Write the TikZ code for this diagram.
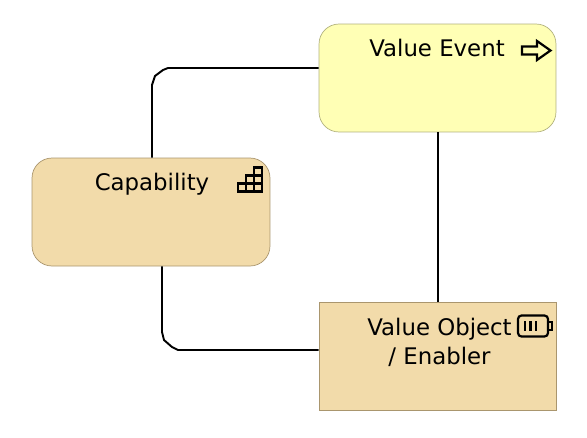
\documentclass[tikz,border=0pt]{standalone}
\usepackage{fontspec}
\setmainfont{DejaVu Sans}
\usetikzlibrary{positioning,calc}
\definecolor{eventfill}{RGB}{255,255,181}
\definecolor{eventedge}{RGB}{178,178,126}
\definecolor{tanfill}{RGB}{242,219,170}
\definecolor{tanedge}{RGB}{170,150,110}
\tikzset{
  eventbox/.style={draw=eventedge, fill=eventfill, rounded corners=0.4cm, minimum width=4.74cm, minimum height=2.16cm, inner sep=0pt},
  capbox/.style={draw=tanedge, fill=tanfill, rounded corners=0.4cm, minimum width=4.76cm, minimum height=2.16cm, inner sep=0pt},
  objbox/.style={draw=tanedge, fill=tanfill, minimum width=4.74cm, minimum height=2.16cm, inner sep=0pt},
  boxlabel/.style={font=\fontsize{13}{16.5}\selectfont, align=center, inner sep=0pt},
  link/.style={line width=1.1pt, black},
  glyph/.style={line width=1.25pt, black}
}
\begin{document}
\begin{tikzpicture}[x=0.02cm,y=-0.02cm]
\useasboundingbox (0,0) rectangle (587,437);

% Elements
\node[eventbox] (event) at (437.5,78) {};
\node[capbox] (capability) at (151,212) {};
\node[objbox] (object) at (437.5,356) {};

% Connectors
\coordinate (capup) at ($(capability.north)+(1,0)$);
\coordinate (capdown) at ($(capability.south)+(11,0)$);
\coordinate (eventdown) at ($(event.south)+(0.5,0)$);
\coordinate (objectup) at ($(object.north)+(0.5,0)$);
\draw[link] (capup) -- (152,85) -- (155,76) -- (163,70) -- (168,68) -- (event.west |- 0,68);
\draw[link] (capdown) -- (162,332) -- (164,340) -- (172,347) -- (178,350) -- (object.west |- 0,350);
\draw[link] (eventdown) -- (objectup);

% Labels
\node[boxlabel] (eventlabel) at (437,48) {Value Event};
\node[boxlabel] (caplabel) at (152,184) {Capability};
\node[boxlabel] (objlabel) at (439.5,342) {Value Object\\/ Enabler};

% Event arrow
\draw[glyph, line join=miter] (522,46.5) -- (537,46.5) -- (537,41) -- (550.5,50.5) -- (537,60) -- (537,54.5) -- (522,54.5) -- cycle;

% Staircase
\draw[glyph] (238,191.5) rectangle (262,183.5);
\draw[glyph] (246,183.5) rectangle (262,175.5);
\draw[glyph] (254,175.5) rectangle (262,167.5);
\draw[glyph] (246,183.5) -- (246,191.5) (254,175.5) -- (254,191.5);

% Battery
\draw[glyph, rounded corners=2pt] (518,315.5) rectangle (548,336.5);
\draw[glyph] (548,322) -- (552,322) -- (552,330) -- (548,330);
\draw[glyph] (525,321) -- (525,331) (530.5,321) -- (530.5,331) (536,321) -- (536,331);
\end{tikzpicture}
\end{document}
